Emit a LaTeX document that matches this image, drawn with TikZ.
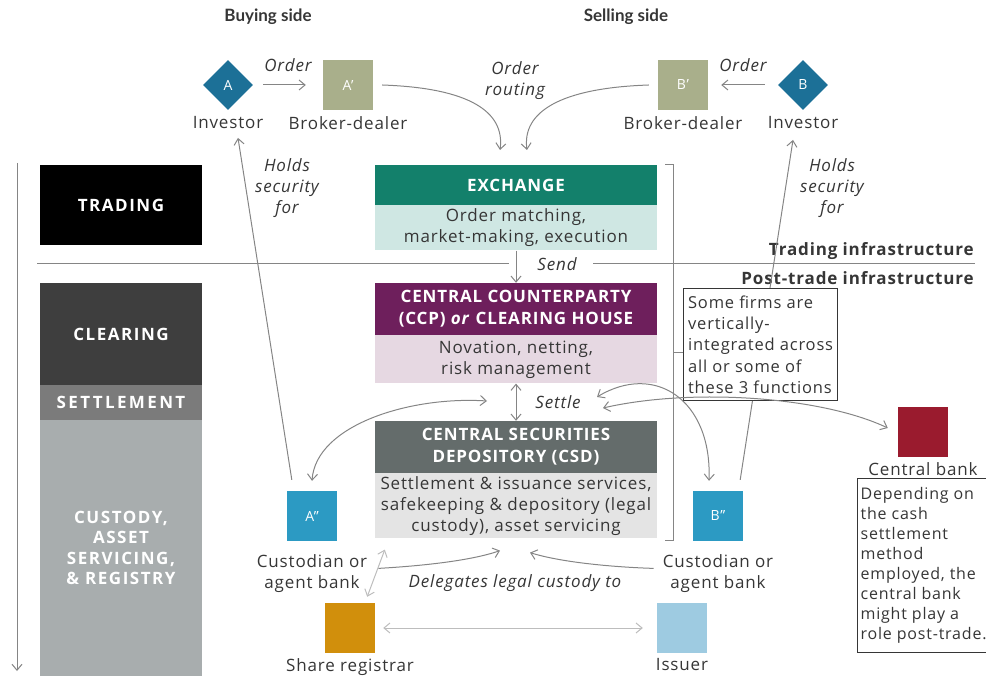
\documentclass[tikz,border=0pt]{standalone}
\usepackage{fontspec}
\setmainfont{Open Sans}[LetterSpace=5]
\newfontfamily\sidefam{Lato}
\newfontfamily\phasefam{Open Sans}[LetterSpace=9]
\usetikzlibrary{arrows.meta,shapes.geometric,positioning}

\definecolor{txt}{HTML}{363636}
\definecolor{linegray}{HTML}{858585}
\definecolor{faintgray}{HTML}{BDBDBD}
\definecolor{exgreen}{HTML}{13806B}
\definecolor{exlight}{HTML}{CFE7E3}
\definecolor{ccppurple}{HTML}{6E1F5C}
\definecolor{ccplight}{HTML}{E6D8E2}
\definecolor{csdgray}{HTML}{646C6B}
\definecolor{csdlight}{HTML}{E4E4E4}
\definecolor{invblue}{HTML}{1C7097}
\definecolor{brokerolive}{HTML}{A9AF8B}
\definecolor{custblue}{HTML}{2C9AC3}
\definecolor{regamber}{HTML}{D18F0C}
\definecolor{issblue}{HTML}{9ECBE1}
\definecolor{cbred}{HTML}{9A1B2E}
\definecolor{clrgray}{HTML}{3E3E3E}
\definecolor{setgray}{HTML}{7B7B7B}
\definecolor{cusgray}{HTML}{A8ADAE}

\newcommand{\lblfont}{\fontsize{17}{21}\selectfont}
\newcommand{\headfont}{\fontsize{17}{22}\selectfont\bfseries}
\newcommand{\phasefont}{\phasefam\fontsize{17}{20.5}\selectfont\bfseries}
\newcommand{\notefont}{\fontsize{16.5}{21.2}\selectfont}
\newcommand{\cbfont}{\fontsize{16}{20}\selectfont}
\newcommand{\tagfont}{\fontsize{14}{14}\selectfont}
\newcommand{\sidefont}{\sidefam\fontsize{17}{20}\selectfont\bfseries}
\newcommand{\infrafont}{\fontsize{17}{20}\selectfont\bfseries}

\tikzset{
  conn/.style={draw=linegray, line width=1pt, -{Straight Barb[length=6pt,width=10pt]}},
  conn2/.style={conn, {Straight Barb[length=6pt,width=10pt]}-{Straight Barb[length=6pt,width=10pt]}},
  faint/.style={conn2, draw=faintgray},
  sep/.style={draw=linegray, line width=1pt},
  phase/.style={minimum width=162pt, inner sep=0pt, text=white, font=\phasefont, align=center},
  head/.style={minimum width=282pt, inner sep=0pt, text=white, font=\headfont, align=center},
  body/.style={minimum width=282pt, inner sep=0pt, text=txt, font=\lblfont, align=center},
  party/.style={minimum width=50pt, minimum height=50pt, inner sep=0pt, text=white, font=\tagfont},
  lbl/.style={text=txt, font=\lblfont, align=center, inner sep=1pt},
  lblit/.style={lbl, font=\lblfont\itshape},
  notebox/.style={draw=txt, line width=1.2pt, fill=white, text=txt, align=left, inner sep=3pt, anchor=north west},
}

\begin{document}
\begin{tikzpicture}[x=1pt,y=-1pt]
	\useasboundingbox (0,0) rectangle (986,676);

	\node[lbl, font=\sidefont] (buyhd) at (268,17) {Buying side};
	\node[lbl, font=\sidefont] (sellhd) at (626,17) {Selling side};

	% trading parties
	\node[diamond, aspect=1, party, fill=invblue] (A) at (228,85) {A};
	\node[party, fill=brokerolive] (Ap) at (348,85) {A'};
	\node[party, fill=brokerolive] (Bp) at (683,85) {B'};
	\node[diamond, aspect=1, party, fill=invblue] (B) at (803,85) {B};
	\node[lbl, below=5pt of A] (Ainv) {Investor};
	\node[lbl, below=5pt of Ap] (Apbd) {Broker-dealer};
	\node[lbl, below=5pt of Bp] (Bpbd) {Broker-dealer};
	\node[lbl, below=5pt of B] (Binv) {Investor};

	\draw[conn, shorten <=10pt, shorten >=17pt] (A) -- (Ap) node[lblit, midway, above=12pt] {Order};
	\draw[conn, shorten <=13pt, shorten >=13pt] (B) -- (Bp) node[lblit, midway, above=12pt] {Order};

	\coordinate (rtL) at (500,150);
	\coordinate (rtR) at (527,150);
	\draw[conn] ([xshift=9pt]Ap.east) .. controls (470,88) and (505,112) .. (rtL);
	\draw[conn] ([xshift=-9pt]Bp.west) .. controls (560,88) and (522,112) .. (rtR);
	\node[lblit] (routing) at (515,81) {Order\\routing};

	% phases
	\draw[conn] (17,163) -- (17,671);
	\node[phase, fill=black, minimum height=80pt] (trading) at (121,205) {TRADING};
	\node[phase, fill=clrgray, minimum height=102pt] (clearing) at (121,334) {CLEARING};
	\node[phase, fill=setgray, minimum height=35pt] (settlement) at (121,402.5) {\addfontfeature{LetterSpace=14}SETTLEMENT};
	\node[phase, fill=cusgray, minimum height=256pt] (custody) at (121,548) {CUSTODY,\\ASSET\\SERVICING,\\\& REGISTRY};

	\draw[sep] (37,264) -- (509,264);
	\draw[sep] (593,264) -- (975,264);
	\node[lbl, font=\infrafont, anchor=east] (tradinf) at (975,251) {Trading infrastructure};
	\node[lbl, font=\infrafont, anchor=east] (postinf) at (975,278) {Post-trade infrastructure};

	% infrastructure
	\node[head, fill=exgreen, minimum height=40pt] (exhead) at (516,185) {EXCHANGE};
	\node[body, fill=exlight, minimum height=45pt, below=0pt of exhead] (exbody) {Order matching,\\market-making, execution};
	\node[head, fill=ccppurple, minimum height=52pt] (ccphead) at (516,309) {CENTRAL COUNTERPARTY\\(CCP) \textit{or} CLEARING HOUSE};
	\node[body, fill=ccplight, minimum height=48pt, below=0pt of ccphead] (ccpbody) {Novation, netting,\\risk management};
	\node[head, fill=csdgray, minimum height=52pt] (csdhead) at (516,447) {CENTRAL SECURITIES\\DEPOSITORY (CSD)};
	\node[body, fill=csdlight, minimum height=65pt, below=0pt of csdhead] (csdbody) {Settlement \& issuance services,\\safekeeping \& depository (legal\\custody), asset servicing};

	\draw[conn] (exbody) -- (ccphead);
	\node[lblit] (send) at (557,264) {Send};
	\draw[conn2] (ccpbody) -- (csdhead);
	\node[lblit] (settle) at (558,402) {Settle};

	\draw[sep] (665,165) -- (673,165) -- (673,540) -- (665,540);
	\draw[sep] (673,353) -- (683,353);

	% custody side
	\node[party, fill=custblue] (Acust) at (312,516) {A''};
	\node[lbl, below=12pt of Acust] (Acustlbl) {Custodian or\\agent bank};
	\node[party, fill=custblue] (Bcust) at (718,516) {B''};
	\node[lbl, below=12pt of Bcust] (Bcustlbl) {Custodian or\\agent bank};
	\node[party, fill=regamber] (reg) at (350,628) {};
	\node[lbl, below=4pt of reg] (reglbl) {Share registrar};
	\node[party, fill=issblue] (issuer) at (682,628) {};
	\node[lbl, below=4pt of issuer] (isslbl) {Issuer};
	\node[party, fill=cbred] (cbank) at (923,432) {};
	\node[lbl, below=4pt of cbank] (cblbl) {Central bank};

	\draw[conn] ([xshift=5pt,yshift=11pt]Acust.north west) -- ([xshift=10pt,yshift=-8pt]Ainv.south);
	\node[lblit] (holdA) at (287,188) {Holds\\security\\for};
	\draw[conn] ([xshift=-3pt,yshift=11pt]Bcust.north east) -- ([xshift=-10pt,yshift=-10pt]Binv.south);
	\node[lblit] (holdB) at (832,188) {Holds\\security\\for};

	\node[notebox, font=\notefont, minimum width=154pt, minimum height=112pt] (vinote) at (683,288) {Some firms are\\vertically-\\integrated across\\all or some of\\these 3 functions};
	\node[notebox, font=\cbfont, minimum width=128pt, minimum height=174pt] (cbnote) at (857,478) {Depending on\\the cash\\settlement\\method\\employed, the\\central bank\\might play a\\role post-trade.};

	\coordinate (setL) at (487,401);
	\coordinate (setR1) at (597,397);
	\coordinate (setR2) at (603,408);
	\draw[conn2] ([yshift=10pt]Acust.north) .. controls (316,425) and (410,396) .. (setL);
	\draw[conn2] (setR1) .. controls (655,362) and (712,400) .. ([xshift=-9pt,yshift=10pt]Bcust.north);
	\draw[conn2] (setR2) .. controls (690,388) and (820,396) .. ([xshift=-10pt,yshift=4pt]cbank.west);

	\draw[conn] ([xshift=10pt,yshift=5pt]Acustlbl.east) .. controls (420,566) and (470,561) .. ([xshift=-16pt,yshift=-12pt]csdbody.south);
	\draw[conn] ([xshift=-8pt,yshift=5pt]Bcustlbl.west) .. controls (610,567) and (560,562) .. ([xshift=14pt,yshift=-14pt]csdbody.south);
	\node[lblit] (deleg) at (515,583) {Delegates legal custody to};

	\draw[faint] ([xshift=10pt,yshift=-11pt]csdbody.south west) -- ([xshift=-8pt,yshift=6pt]reg.north east);
	\draw[faint, shorten <=8pt, shorten >=14pt] (reg) -- (issuer);
\end{tikzpicture}
\end{document}
